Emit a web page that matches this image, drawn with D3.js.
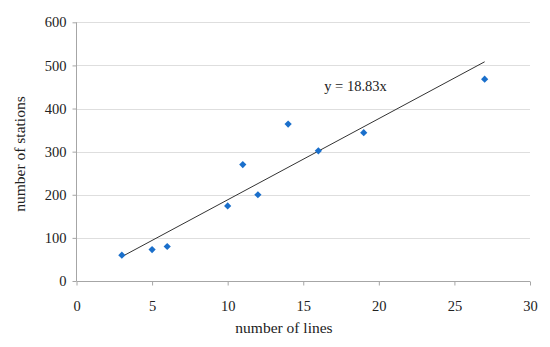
<!DOCTYPE html>
<html>
<head>
<meta charset="utf-8">
<script src="https://cdn.jsdelivr.net/npm/d3@7"></script>
<style>
  body { margin: 0; background: #fff; }
  text { font-family: "Liberation Serif", "DejaVu Serif", serif; fill: #222; }
</style>
</head>
<body>
<div id="chart"></div>
<script>
// number of lines vs number of stations
var lines = [3, 5, 6, 10, 11, 12, 14, 16, 19, 27];
var stations = [60, 73, 80, 174, 270, 200, 364, 302, 344, 468];
var slope = 18.83;
var xTicks = [0, 5, 10, 15, 20, 25, 30];
var yTicks = [0, 100, 200, 300, 400, 500, 600];

var w = 550, h = 347;
var svg = d3.select("#chart").append("svg")
  .attr("width", w)
  .attr("height", h);

var x = d3.scaleLinear().domain([0, 30]).range([76.5, 530]);
var y = d3.scaleLinear().domain([0, 600]).range([281, 22.3]);

// gridlines
svg.append("g")
  .selectAll("line")
  .data(yTicks.slice(1))
  .enter()
  .append("line")
  .attr("x1", x(0))
  .attr("x2", x(30))
  .attr("y1", d => Math.round(y(d)) + 0.5)
  .attr("y2", d => Math.round(y(d)) + 0.5)
  .style("stroke", "#dedede")
  .style("stroke-width", 1);

// y axis
var yAxis = svg.append("g")
  .attr("transform", "translate(" + x(0) + ",0)")
  .call(d3.axisLeft(y).tickValues(yTicks).tickSize(4).tickPadding(6));

// x axis
var xAxis = svg.append("g")
  .attr("transform", "translate(0," + (Math.round(y(0)) + 0.5) + ")")
  .call(d3.axisBottom(x).tickValues(xTicks).tickSize(4).tickPadding(15));

[xAxis, yAxis].forEach(function(a) {
  a.select(".domain").style("stroke", "#a6a6a6");
  a.selectAll(".tick line").style("stroke", "#a6a6a6");
  a.selectAll(".tick text")
    .style("font-family", "'Liberation Serif', 'DejaVu Serif', serif")
    .style("font-size", "14.5px")
    .style("fill", "#222");
});
xAxis.select(".domain").attr("d", "M" + x(0) + ",0H" + x(30));
yAxis.select(".domain").attr("d", "M0," + y(600) + "V" + y(0));

// trend line
var fitX = [d3.min(lines), d3.max(lines)];
svg.append("line")
  .attr("x1", x(fitX[0]))
  .attr("y1", y(slope * fitX[0]))
  .attr("x2", x(fitX[1]))
  .attr("y2", y(slope * fitX[1]))
  .style("stroke", "#333")
  .style("stroke-width", 1);

// points
var pts = lines.map((d, i) => ({ x: d, y: stations[i] }));
svg.append("g")
  .selectAll("path")
  .data(pts)
  .enter()
  .append("path")
  .attr("d", d3.symbol().type(d3.symbolSquare).size(26))
  .attr("transform", d => "translate(" + x(d.x) + "," + y(d.y) + ") rotate(45)")
  .style("fill", "#1a6fcb");

// equation label
svg.append("text")
  .attr("x", 355.5)
  .attr("y", 91)
  .attr("text-anchor", "middle")
  .style("font-size", "14.5px")
  .text("y = 18.83x");

// axis titles
svg.append("text")
  .attr("x", 284)
  .attr("y", 333)
  .attr("text-anchor", "middle")
  .style("font-size", "15.5px")
  .text("number of lines");

svg.append("text")
  .attr("transform", "translate(25,154) rotate(-90)")
  .attr("text-anchor", "middle")
  .style("font-size", "15.5px")
  .text("number of stations");
</script>
</body>
</html>
